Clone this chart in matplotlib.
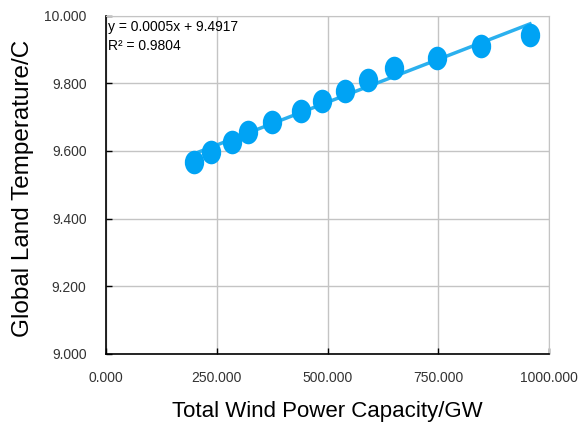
import numpy as np
import matplotlib
matplotlib.use('Agg')
import matplotlib.pyplot as plt
from matplotlib.path import Path
from matplotlib.transforms import Affine2D

# wind capacity (GW) vs global land temperature (C)
capacity = [199, 237, 284, 320, 375, 440, 488, 540, 591, 650, 747, 846, 957]
temperature = [9.568, 9.597, 9.627, 9.656, 9.686, 9.718, 9.748, 9.777, 9.810, 9.845, 9.875, 9.910, 9.942]

xticks = [0, 250, 500, 750, 1000]
yticks = [9.0, 9.2, 9.4, 9.6, 9.8, 10.0]

plt.rcParams['font.family'] = ['Liberation Sans', 'DejaVu Sans']

fig = plt.figure(figsize=(5.79, 4.24), dpi=100)
ax = fig.add_axes([0.1831, 0.1651, 0.7651, 0.7983])

# slightly tall ellipse marker
ell = Path.unit_circle().transformed(Affine2D().scale(0.82, 1.0))

# trendline
k, b = np.polyfit(capacity, temperature, 1)
xs = np.array([min(capacity), max(capacity)])
ax.plot(xs, k * xs + b, color='#2bb0ee', lw=2.5, zorder=2)
ax.plot(capacity, temperature, linestyle='none', marker=ell, ms=17,
        color='#00a3f4', markeredgewidth=0, zorder=3)

ax.set_xlim(0, 1000)
ax.set_ylim(9.0, 10.0)
ax.set_xticks(xticks)
ax.set_yticks(yticks)
ax.set_xticklabels(['%.3f' % v for v in xticks])
ax.set_yticklabels(['%.3f' % v for v in yticks])
ax.grid(True, color='#c4c4c4', lw=1)
ax.set_axisbelow(True)
ax.tick_params(direction='in', length=4, width=1, labelsize=10, colors='black',
               labelcolor='#333333')
ax.tick_params(axis='x', pad=12)
ax.tick_params(axis='y', pad=14)
for s in ['top', 'right']:
    ax.spines[s].set_color('#c4c4c4')
for s in ['left', 'bottom']:
    ax.spines[s].set_color('black')
    ax.spines[s].set_linewidth(1.2)

ax.text(0.004, 0.988, 'y = 0.0005x + 9.4917\nR² = 0.9804', transform=ax.transAxes,
        ha='left', va='top', fontsize=10, linespacing=1.45)

fig.text(327 / 579, 1 - 411 / 424, 'Total Wind Power Capacity/GW', ha='center', va='center', fontsize=16)
fig.text(23 / 579, 1 - 188 / 424, 'Global Land Temperature/C', ha='center', va='center',
         rotation=90, fontsize=17.5)

fig.savefig('out.png', dpi=100)
